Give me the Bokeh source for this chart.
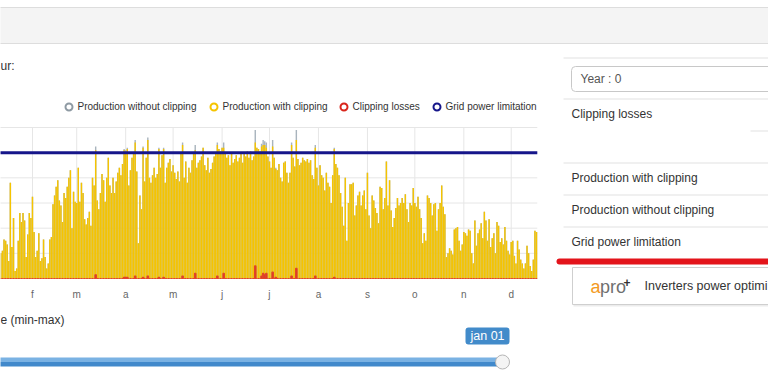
from bokeh.plotting import figure
from bokeh.models import Range1d, Label, BoxAnnotation
from bokeh.embed import file_html
from bokeh.resources import INLINE
from bokeh.core.properties import value

# ---------------- data ----------------
first_day = 11  # day-of-year index (0 = jan 01) of first value
prod_without = [
    20, 22, 31, 30, 27, 14, 76, 25, 48, 6,
    8, 30, 52, 45, 52, 46, 17, 35, 52, 48,
    65, 37, 17, 22, 36, 14, 16, 31, 17, 8,
    12, 31, 33, 59, 66, 73, 78, 62, 58, 45,
    68, 64, 73, 80, 86, 40, 69, 61, 60, 88,
    61, 76, 68, 47, 43, 48, 53, 42, 80, 74,
    105, 62, 55, 68, 83, 78, 61, 80, 96, 74,
    68, 80, 68, 77, 84, 88, 82, 91, 103, 102,
    104, 74, 86, 96, 99, 110, 85, 28, 66, 55,
    105, 77, 96, 112, 80, 76, 82, 88, 80, 83,
    104, 88, 98, 104, 76, 88, 92, 95, 85, 90,
    84, 79, 85, 77, 100, 108, 80, 93, 76, 88,
    84, 94, 100, 106, 88, 92, 94, 97, 104, 90,
    86, 96, 84, 87, 92, 97, 100, 108, 103, 101,
    104, 108, 100, 96, 98, 90, 99, 92, 95, 98,
    93, 96, 100, 92, 99, 97, 101, 96, 101, 94,
    97, 118, 104, 103, 101, 107, 110, 109, 108, 97,
    93, 88, 110, 96, 88, 86, 91, 80, 77, 92,
    93, 84, 76, 84, 108, 96, 89, 118, 95, 90,
    92, 96, 94, 93, 95, 92, 94, 82, 79, 106,
    88, 74, 90, 82, 80, 70, 84, 76, 73, 60,
    82, 104, 91, 88, 82, 68, 57, 42, 80, 30,
    60, 75, 75, 76, 50, 58, 66, 69, 58, 66,
    70, 55, 84, 50, 40, 66, 62, 56, 52, 44,
    73, 72, 55, 64, 93, 58, 78, 54, 41, 48,
    56, 64, 58, 60, 64, 60, 67, 55, 45, 60,
    58, 72, 60, 57, 65, 55, 48, 28, 36, 30,
    66, 64, 60, 50, 59, 60, 38, 55, 60, 74,
    57, 51, 17, 20, 24, 22, 19, 39, 40, 41,
    30, 22, 27, 37, 36, 34, 39, 38, 20, 12,
    46, 26, 36, 39, 44, 32, 53, 46, 30, 47,
    25, 32, 36, 20, 45, 42, 29, 32, 27, 41,
    30, 22, 19, 29, 30, 18, 12, 30, 23, 15,
    12, 8, 12, 26, 20, 10, 6, 15, 38, 37,
]
loss_days = [71, 89, 90, 91, 96, 101, 104, 111, 114, 126, 134, 148, 152,
             172, 176, 177, 178, 179, 183, 185, 195, 198, 210, 222]
loss_vals = [3, 1, 1, 1, 2, 1, 2, 1, 1, 2, 4, 2, 4,
             10, 2, 4, 3, 4, 5, 1, 2, 8, 2, 1]
grid_limit = 100
month_ticks = [31, 59, 90, 120, 151, 181, 212, 243, 273, 304, 334]
month_labels = ["f", "m", "a", "m", "j", "j", "a", "s", "o", "n", "d"]
y_ticks = [0, 20, 40, 60, 80, 100, 120]
legend_names = ["Production without clipping", "Production with clipping",
                "Clipping losses", "Grid power limitation"]
panel_items = ["Clipping losses", "Production with clipping",
               "Production without clipping", "Grid power limitation"]

days = list(range(first_day, first_day + len(prod_without)))
losses = [0] * len(days)
for d, v in zip(loss_days, loss_vals):
    losses[d - first_day] = v
prod_with = [a - b for a, b in zip(prod_without, losses)]

# ---------------- layout ----------------
W, H = 768, 382
# chart scale: day d sits at screen x = X0 + PXD * d ; value v at screen y = YB - PXV * v
X0, PXD = -17.0, 1.58
YB, PXV = 278.0, 151.0 / 120.0

C_GREY = "#a9b4bd"
C_YEL = "#f5c400"
C_RED = "#d9261c"
C_NAVY = "#16168a"
C_GRID = "#e6e6e6"
FONT = "Liberation Sans"

p = figure(width=W, height=H, output_backend="svg", toolbar_location=None,
           x_range=Range1d((0 - X0) / PXD, (W - X0) / PXD),
           y_range=Range1d((YB - H) / PXV, YB / PXV),
           x_axis_location=None, y_axis_location=None,
           min_border=0, min_border_left=0, min_border_right=0,
           min_border_top=0, min_border_bottom=0)
p.outline_line_color = None
p.grid.visible = False
p.background_fill_color = "white"
p.border_fill_color = "white"

x_lo, x_hi = days[0] - 0.5, days[-1] + 0.5

# grid lines from the tick lists
p.segment(x0=month_ticks, y0=[y_ticks[0]] * len(month_ticks),
          x1=month_ticks, y1=[y_ticks[-1]] * len(month_ticks),
          line_color=C_GRID, line_width=1)
p.segment(x0=[x_lo] * len(y_ticks), y0=y_ticks, x1=[x_hi] * len(y_ticks), y1=y_ticks,
          line_color=C_GRID, line_width=1)

# bars
p.vbar(x=days, top=prod_without, width=0.9, fill_color=C_GREY, line_color=None)
p.vbar(x=days, top=prod_with, width=0.9, fill_color=C_YEL, line_color=None)
p.vbar(x=days, top=losses, width=0.9, fill_color=C_RED, line_color="#e0452a",
       line_width=1.2)
# grid power limitation
p.line(x=[x_lo, x_hi], y=[grid_limit, grid_limit], line_color=C_NAVY, line_width=3)

# month labels (x axis)
p.text(x=month_ticks, y=[y_ticks[0]] * len(month_ticks), text=month_labels,
       y_offset=16, text_align="center", text_baseline="middle",
       text_font=value(FONT), text_font_size="10px", text_color="#666666")


def txt(text, X, Y, size, color="#333333", align="left", weight="normal"):
    p.add_layout(Label(x=X, y=H - Y, x_units="screen", y_units="screen",
                       text=text, text_font=FONT, text_font_size=size,
                       text_color=color, text_align=align,
                       text_baseline="middle", text_font_style=weight,
                       level="overlay"))


def box(XA, YA, XB, YB_, fill=None, line=None, lw=1, radius=0):
    p.add_layout(BoxAnnotation(left=XA, right=XB, top=H - YA, bottom=H - YB_,
                               left_units="screen", right_units="screen",
                               top_units="screen", bottom_units="screen",
                               fill_color=fill if fill else "white",
                               fill_alpha=1 if fill else 0,
                               line_color=line if line else "white",
                               line_alpha=1 if line else 0,
                               line_width=lw, border_radius=int(radius),
                               level="annotation"))


# top grey band
box(-10, 7, 780, 43, fill="#f4f4f4", line="#dddddd")

# chart header text
txt("ur:", 0, 65, "12px")

# legend
leg_x = [68, 213, 343, 436]
leg_c = ["#8e9aa3", C_YEL, C_RED, C_NAVY]
for name, x, c in zip(legend_names, leg_x, leg_c):
    box(x - 3, 103, x + 4, 110, line=c, lw=2, radius=4)
    txt(name, x + 9, 106, "10px")

# below chart
txt("e (min-max)", 0, 319, "12px")
box(465, 327, 509, 344, fill="#428bca", radius=3)
txt("jan 01", 487, 335.5, "12.5px", color="white", align="center")
box(-10, 357, 502, 361.5, fill="#7ab2e3", radius=4)
box(-10, 361.5, 502, 366, fill="#4189cb", radius=4)
box(495, 354.5, 509, 368.5, fill="#f4f4f4", line="#b5b5b5", lw=1, radius=7)

# right panel
for y in [57, 98, 162, 194, 226]:
    box(563, y, 780, y + 1, fill="#e2e2e2")
box(750, 130, 780, 131, fill="#e2e2e2")
box(571, 66, 790, 91, line="#c8c8c8", radius=4)
txt("Year : 0", 580, 78.5, "12px", color="#555555")
for name, y in zip(panel_items, [113, 177, 209, 241]):
    txt(name, 571, y, "12px")
box(556, 258, 790, 264, fill="#e3141b", radius=3)
box(573, 269, 790, 306, fill="#ececec")
box(572, 267, 790, 304, fill="white", line="#cfcfcf")
txt("a", 590, 286, "18px", color="#f39a1e")
txt("pro", 599.5, 286, "18px", color="#6f6f6f")
txt("+", 623, 282, "12px", color="#333333", weight="bold")
txt("Inverters power optimi", 644, 285, "12.5px")

open("out.html", "w").write(file_html(p, INLINE))
